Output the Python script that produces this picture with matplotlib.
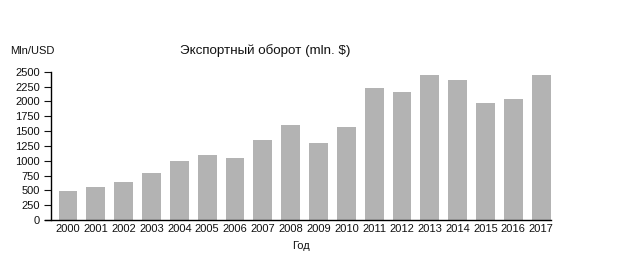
import matplotlib.pyplot as plt
import numpy as np

plt.rcParams["font.family"] = ["Liberation Sans", "DejaVu Sans"]

# Export turnover by year, mln. USD
years = [str(y) for y in range(2000, 2018)]
turnover = [490, 560, 640, 790, 990, 1090, 1050, 1350, 1600,
            1290, 1560, 2220, 2160, 2440, 2360, 1980, 2040, 2440]
yticks = list(range(0, 2501, 250))

fig = plt.figure(figsize=(6.3, 2.6), dpi=100)
ax = fig.add_axes([0.081, 0.154, 0.793, 0.570])

x = np.arange(len(years))
ax.bar(x, turnover, width=0.68, color="#b3b3b3", edgecolor="none")

ax.set_xlim(-0.61, len(years) - 1 + 0.34)
ax.set_ylim(0, 2500)
ax.set_yticks(yticks)
ax.set_yticklabels([str(v) for v in yticks])
ax.set_xticks(x)
ax.set_xticklabels(years)

for side in ("top", "right"):
    ax.spines[side].set_visible(False)
ax.spines["left"].set_linewidth(1.0)
ax.spines["bottom"].set_linewidth(1.0)
ax.spines["bottom"].set_bounds(-0.83, len(years) - 1 + 0.34)
ax.spines["bottom"].set_clip_on(False)

ax.tick_params(axis="y", length=5, width=0.8, labelsize=8, pad=3, colors="#111111")
ax.tick_params(axis="x", length=0, labelsize=8, pad=3, colors="#111111")

ax.set_xlabel("Год", fontsize=8, labelpad=5, color="#111111")
fig.text(0.016, 0.805, "Mln/USD", fontsize=8, va="center", ha="left", color="#111111")
fig.text(0.421, 0.805, "Экспортный оборот (mln. $)", fontsize=9.6, va="center",
         ha="center", color="#111111")

fig.savefig("out.png", dpi=100)
